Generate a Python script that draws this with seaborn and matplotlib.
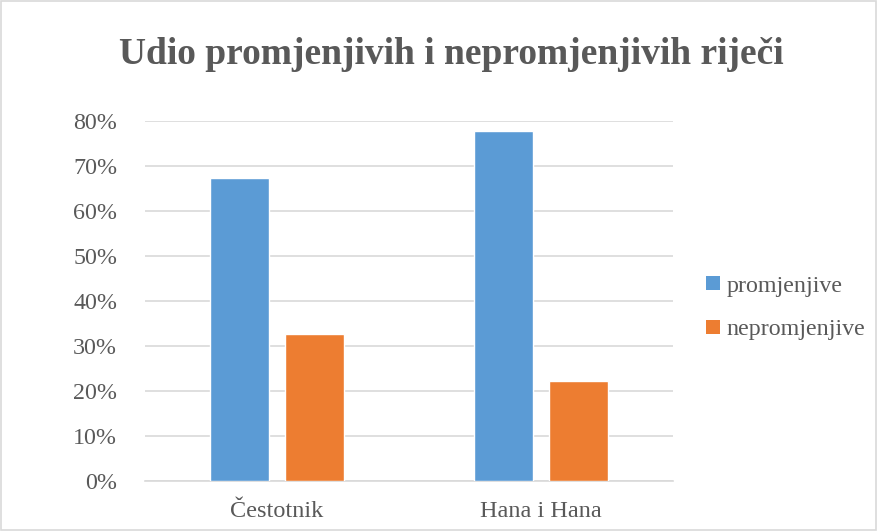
import matplotlib
matplotlib.use("Agg")
import matplotlib.pyplot as plt
import seaborn as sns
import pandas as pd
from matplotlib.patches import Rectangle
from matplotlib.ticker import FuncFormatter, MultipleLocator

categories = ["Čestotnik", "Hana i Hana"]
series = ["promjenjive", "nepromjenjive"]
promjenjive = [0.674, 0.777]
nepromjenjive = [0.326, 0.223]
colors = ["#5B9BD5", "#ED7D31"]

df = pd.DataFrame({
    "kategorija": categories * 2,
    "vrsta": [series[0]] * 2 + [series[1]] * 2,
    "udio": promjenjive + nepromjenjive,
})

sns.set_theme(style="white")
plt.rcParams["font.family"] = ["Liberation Serif", "DejaVu Serif"]
txt = "#595959"
grid = "#D9D9D9"

fig = plt.figure(figsize=(8.78, 5.31), dpi=100)
ax = fig.add_axes([0.165, 0.094, 0.6015, 0.678])

sns.barplot(data=df, x="kategorija", y="udio", hue="vrsta", order=categories,
            hue_order=series, palette=colors, width=0.57, gap=0.214,
            saturation=1, ax=ax, legend=False, zorder=3)

ax.set_xlim(-0.5, 1.5)
ax.set_ylim(0, 0.8)
ax.yaxis.set_major_locator(MultipleLocator(0.1))
ax.yaxis.set_major_formatter(FuncFormatter(lambda v, p: f"{v*100:.0f}%"))
ax.grid(axis="y", color=grid, linewidth=1.2, zorder=0)
ax.set_axisbelow(True)
for s in ["left", "right", "top"]:
    ax.spines[s].set_visible(False)
ax.spines["bottom"].set_color(grid)
ax.spines["bottom"].set_linewidth(1.2)
ax.tick_params(axis="both", length=0, labelcolor=txt)
ax.tick_params(axis="y", pad=20, labelsize=17.3)
ax.tick_params(axis="x", pad=14, labelsize=17.5)
ax.set_xlabel("")
ax.set_ylabel("")

fig.text(0.514, 0.897, "Udio promjenjivih i nepromjenjivih riječi", ha="center",
         va="center", fontsize=27, fontweight="bold", color=txt)

handles = [Rectangle((0, 0), 1, 1, facecolor=c, edgecolor="none") for c in colors]
fig.legend(handles, series, loc="center left", bbox_to_anchor=(0.78, 0.42),
           frameon=False, fontsize=17.3, labelcolor=txt, handlelength=0.55,
           handleheight=0.55, handletextpad=0.3, labelspacing=0.95)

fig.patches.append(Rectangle((0.001, 0.002), 0.997, 0.996, transform=fig.transFigure,
                             fill=False, edgecolor=grid, linewidth=1.2))

fig.savefig("out.png", dpi=100)
